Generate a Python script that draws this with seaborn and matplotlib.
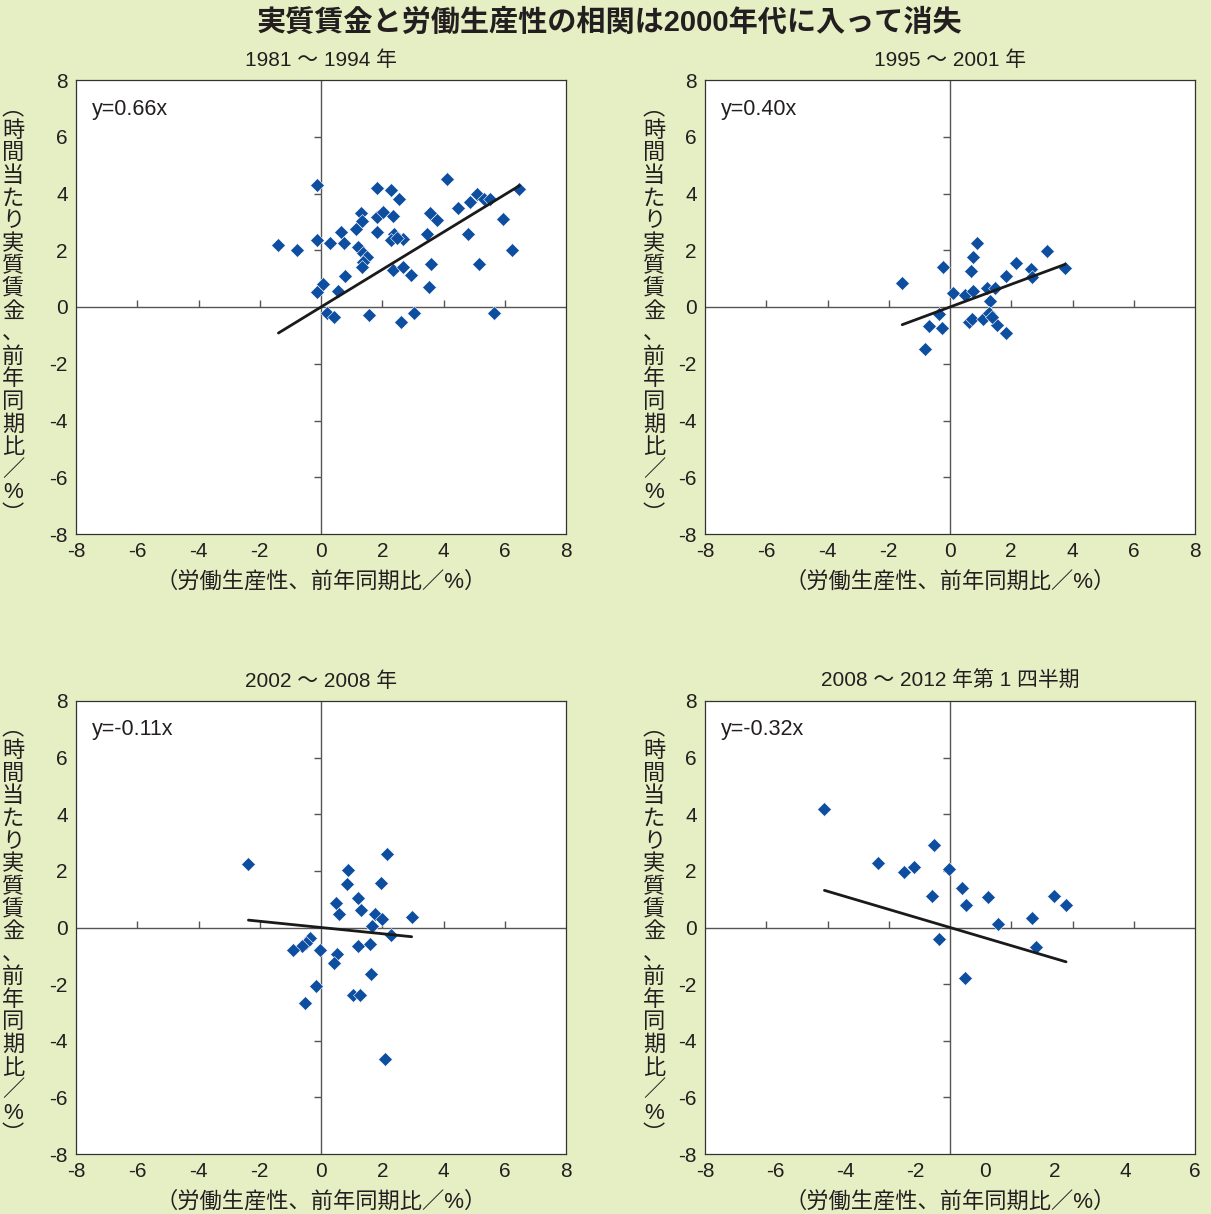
import numpy as np
import pandas as pd
import matplotlib
matplotlib.use("Agg")
import matplotlib.pyplot as plt
import seaborn as sns

# ---------------- data ----------------
title = "実質賃金と労働生産性の相関は2000年代に入って消失"
panel_titles = ["1981 ～ 1994 年", "1995 ～ 2001 年", "2002 ～ 2008 年", "2008 ～ 2012 年第 1 四半期"]
slopes = [0.66, 0.40, -0.11, -0.32]
eq_labels = ["y=0.66x", "y=0.40x", "y=-0.11x", "y=-0.32x"]
xlabel = "（労働生産性、前年同期比／%）"
ylabel = "︵時間当たり実質賃金、前年同期比／%︶"
yticks = [-8, -6, -4, -2, 0, 2, 4, 6, 8]
xticks_std = [-8, -6, -4, -2, 0, 2, 4, 6, 8]
xtick_labels_p4 = ["-8", "-6", "-4", "-2", "0", "2", "4", "6"]

x1 = [-1.39, -0.77, -0.12, -0.12, 0.29, 0.65, 0.75, 0.05, -0.12, 0.57, 0.78, 0.19, 0.42,
      1.57, 2.60, 3.04, 5.66, 3.53, 3.58, 5.16, 6.23, 5.95, 6.48, 4.12, 1.84, 2.27, 2.56,
      1.30, 1.13, 1.35, 1.84, 2.03, 2.36, 1.84, 2.38, 2.27, 2.69, 2.49, 1.22, 1.38, 1.49,
      1.38, 1.33, 2.36, 2.67, 2.93, 3.45, 3.56, 3.78, 4.48, 4.81, 4.87, 5.11, 5.32, 5.52]
y1 = [2.18, 2.00, 4.30, 2.36, 2.27, 2.65, 2.24, 0.81, 0.54, 0.58, 1.09, -0.22, -0.36,
      -0.29, -0.54, -0.22, -0.22, 0.69, 1.50, 1.52, 2.00, 3.10, 4.16, 4.51, 4.18, 4.12, 3.79,
      3.30, 2.75, 3.04, 3.18, 3.36, 3.21, 2.65, 2.57, 2.36, 2.38, 2.42, 2.10, 1.89, 1.77,
      1.60, 1.42, 1.30, 1.42, 1.13, 2.57, 3.30, 3.07, 3.48, 2.57, 3.71, 3.98, 3.79, 3.79]

x2 = [-1.56, -0.24, -0.35, -0.68, -0.27, -0.82, 0.09, 0.49, 0.76, 0.89, 0.74, 0.67, 0.63,
      0.71, 1.07, 1.22, 1.47, 1.31, 1.28, 1.52, 1.82, 1.83, 2.14, 2.63, 2.69, 3.16, 3.76, 1.36]
y2 = [0.83, 1.40, -0.26, -0.66, -0.75, -1.48, 0.48, 0.42, 0.56, 2.24, 1.75, 1.27, -0.52,
      -0.42, -0.42, 0.66, 0.66, 0.22, -0.22, -0.63, -0.93, 1.09, 1.54, 1.34, 1.05, 1.97, 1.36, -0.34]

x3 = [-2.37, 2.14, 0.89, 0.86, 1.95, 1.22, 1.29, 0.49, 0.59, 1.76, 1.98, 2.96, 1.65, 2.27,
      -0.36, -0.49, -0.63, -0.90, -0.03, 1.20, 1.60, 0.51, 0.42, 1.62, -0.16, -0.52, 1.06, 1.27, 2.09]
y3 = [2.26, 2.61, 2.03, 1.54, 1.58, 1.05, 0.61, 0.85, 0.46, 0.46, 0.31, 0.36, 0.05, -0.25,
      -0.36, -0.54, -0.66, -0.80, -0.80, -0.66, -0.60, -0.95, -1.27, -1.66, -2.07, -2.66, -2.40, -2.40, -4.64]

x4 = [-4.10, -2.34, -1.49, -1.18, -0.52, -0.02, -0.60, 0.38, 0.51, 1.23, 1.56, 2.69, 3.40,
      3.79, 2.80, -0.35, 0.49]
y4 = [4.20, 2.29, 1.95, 2.13, 2.93, 2.05, 1.13, 1.40, 0.81, 1.07, 0.13, 0.34, 1.13,
      0.78, -0.70, -0.40, -1.78]

xs_all = [x1, x2, x3, x4]
ys_all = [y1, y2, y3, y4]

# ---------------- style ----------------
sns.set_theme(style="white")
plt.rcParams['font.family'] = ['Liberation Sans', 'Noto Sans CJK JP', 'DejaVu Sans']
BG = "#e6efc4"
BLUE = "#0d4ea0"
TXT = "#231f20"

fig = plt.figure(figsize=(12.11, 12.14), dpi=100, facecolor=BG)
W, H = 1211, 1214

# axes pixel boxes: left, top, right, bottom
boxes = [(76, 80, 566, 534), (705, 80, 1195, 534), (76, 701, 566, 1154), (705, 701, 1195, 1154)]
ylab_x = [13, 654, 13, 654]

fig.text(0.503, 1 - 23 / H, title, ha="center", va="center", fontsize=21,
         fontweight="bold", color=TXT)

for i, (l, t, r, b) in enumerate(boxes):
    ax = fig.add_axes([l / W, 1 - b / H, (r - l) / W, (b - t) / H])
    ax.set_facecolor("white")
    df = pd.DataFrame({"x": xs_all[i], "y": ys_all[i]})
    ax.axhline(0, color="#555555", lw=1.0, zorder=1)
    ax.axvline(0, color="#555555", lw=1.0, zorder=1)
    inner = [v for v in xticks_std if v not in (-8, 0, 8)]
    ax.plot(inner, [0] * len(inner), linestyle="none", marker=2, markersize=5,
            markeredgewidth=1.0, color="#555555", zorder=1)
    ax.plot([0] * len(inner), inner, linestyle="none", marker=0, markersize=5,
            markeredgewidth=1.0, color="#555555", zorder=1)
    sns.scatterplot(data=df, x="x", y="y", marker="D", s=50, color=BLUE,
                    edgecolor="white", linewidth=0.4, ax=ax, zorder=3)
    lx = np.array([min(xs_all[i]), max(xs_all[i])])
    sns.lineplot(x=lx, y=slopes[i] * lx, color="#1a1a1a", lw=2.0, ax=ax, zorder=4)
    ax.set_xlim(-8, 8)
    ax.set_ylim(-8, 8)
    ax.set_yticks(yticks)
    ax.set_yticklabels([str(v) for v in yticks])
    if i == 3:
        ax.set_xticks(np.linspace(-8, 8, len(xtick_labels_p4)))
        ax.set_xticklabels(xtick_labels_p4)
    else:
        ax.set_xticks(xticks_std)
        ax.set_xticklabels([str(v) for v in xticks_std])
    ax.tick_params(axis="both", length=0, labelsize=15, colors=TXT)
    ax.tick_params(axis="x", pad=6)
    ax.tick_params(axis="y", pad=6)
    ax.set_xlabel("")
    ax.set_ylabel("")
    for sp in ax.spines.values():
        sp.set_color("#333333")
        sp.set_linewidth(0.9)
    ax.text(0.033, 0.936, eq_labels[i], transform=ax.transAxes, ha="left", va="center",
            fontsize=15.5, color=TXT)
    ax.text(0.5, 1 + 20 / (b - t), panel_titles[i], transform=ax.transAxes, ha="center",
            va="center", fontsize=15, color=TXT)
    ax.text(0.5, -48 / (b - t), xlabel, transform=ax.transAxes, ha="center",
            va="center", fontsize=16, color=TXT)
    fig.text(ylab_x[i] / W, 1 - ((t + b) / 2 + 5) / H, "\n".join(ylabel), ha="center",
             va="center", fontsize=16, color=TXT, linespacing=1.1)

fig.savefig("out.png", dpi=100, facecolor=BG)
